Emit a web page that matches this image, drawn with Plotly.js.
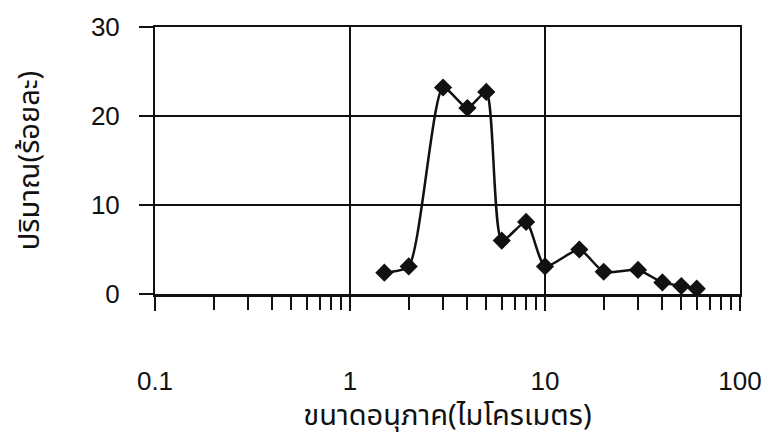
<!DOCTYPE html>
<html>
<head>
<meta charset="utf-8">
<script src="https://cdn.plot.ly/plotly-3.0.1.min.js"></script>
<style>
  html, body { margin: 0; padding: 0; background: #ffffff; }
  #chart { width: 764px; height: 438px; }
</style>
</head>
<body>
<div id="chart"></div>
<script>
// Particle size distribution (percent by size, micrometres)
const particleSize = [1.5, 2, 3, 4, 5, 6, 8, 10, 15, 20, 30, 40, 50, 60];
const percentAmount = [2.4, 3.1, 23.2, 20.9, 22.7, 6.0, 8.1, 3.1, 5.0, 2.5, 2.7, 1.3, 0.9, 0.6];

const majorTicks = [0.1, 1, 10, 100];
const majorTickText = ['0.1', '1', '10', '100'];
const minorTicks = [0.2, 0.3, 0.4, 0.5, 0.6, 0.7, 0.8, 0.9,
                    2, 3, 4, 5, 6, 7, 8, 9,
                    20, 30, 40, 50, 60, 70, 80, 90];
const yTicks = [0, 10, 20, 30];

const xTitle = 'ขนาดอนุภาค(ไมโครเมตร)';
const yTitle = 'ปริมาณ(ร้อยละ)';

const ink = '#111111';
const labelFont = { family: 'Liberation Sans, Arial, sans-serif', size: 26, color: ink };
const thaiFont = { family: 'Noto Sans Thai, Noto Sans Thai UI, Noto Sans, sans-serif', size: 29, color: ink };

const trace = {
  x: particleSize,
  y: percentAmount,
  type: 'scatter',
  mode: 'lines+markers',
  line: { color: ink, width: 2.5, shape: 'spline', smoothing: 0.6 },
  marker: { symbol: 'diamond', size: 14, color: ink },
  hoverinfo: 'x+y',
  cliponaxis: false
};

const layout = {
  width: 764,
  height: 438,
  margin: { l: 155, r: 24, t: 27, b: 144 },
  paper_bgcolor: '#ffffff',
  plot_bgcolor: '#ffffff',
  showlegend: false,
  xaxis: {
    type: 'log',
    range: [-1, 2],
    tickmode: 'array',
    tickvals: majorTicks,
    ticktext: majorTickText,
    ticks: 'outside',
    ticklen: 14,
    tickwidth: 2,
    tickcolor: ink,
    ticklabelstandoff: 48,
    tickfont: labelFont,
    showgrid: true,
    gridcolor: ink,
    gridwidth: 1.3,
    showline: true,
    linecolor: ink,
    linewidth: 2.5,
    mirror: true,
    zeroline: false,
    minor: {
      tickmode: 'array',
      tickvals: minorTicks,
      ticks: 'outside',
      ticklen: 13,
      tickwidth: 2,
      tickcolor: ink,
      showgrid: false
    },
    title: { text: xTitle, font: thaiFont, standoff: 11 },
    automargin: false
  },
  yaxis: {
    range: [0, 30],
    tickmode: 'array',
    tickvals: yTicks,
    ticks: 'outside',
    ticklen: 14,
    tickwidth: 1.3,
    tickcolor: ink,
    ticklabelstandoff: 14,
    tickfont: labelFont,
    showgrid: true,
    gridcolor: ink,
    gridwidth: 1.3,
    showline: true,
    linecolor: ink,
    linewidth: 2,
    mirror: true,
    zeroline: false,
    title: { text: yTitle, font: thaiFont, standoff: 43 },
    automargin: false
  }
};

Plotly.newPlot('chart', [trace], layout, { displayModeBar: false, staticPlot: true });
</script>
</body>
</html>
